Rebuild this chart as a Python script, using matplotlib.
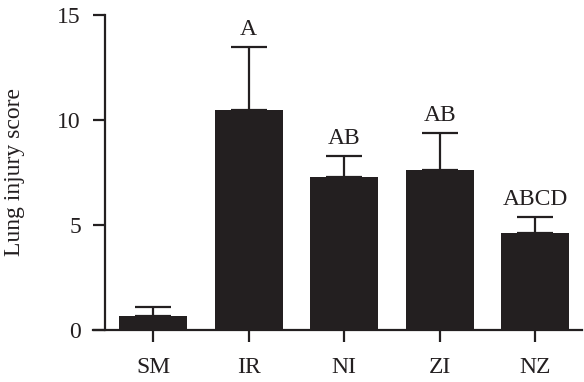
import matplotlib
matplotlib.use("Agg")
import matplotlib.pyplot as plt

categories = ["SM", "IR", "NI", "ZI", "NZ"]
means = [0.67, 10.5, 7.3, 7.6, 4.6]
errors = [0.43, 3.0, 1.0, 1.8, 0.8]
letters = ["", "A", "AB", "AB", "ABCD"]
yticks = [0, 5, 10, 15]

plt.rcParams['font.family'] = ['Liberation Serif', 'DejaVu Serif']
color = "#231f20"
fs = 17

fig = plt.figure(figsize=(5.84, 3.82), dpi=100)
ax = fig.add_axes([93/584, 1-330/382, (582-93)/584, (330-15)/382])

x = list(range(len(categories)))
ax.bar(x, means, width=0.71, color=color, zorder=2)
ax.errorbar(x, means, yerr=[[0]*len(errors), errors], fmt='none', ecolor=color,
            elinewidth=1.6, capsize=13, capthick=1.6, zorder=1)

for xi, m, e, lab in zip(x, means, errors, letters):
    if lab:
        ax.annotate(lab, (xi, m + e), xytext=(0, 5), textcoords='offset points',
                    ha='center', va='bottom', fontsize=fs, color=color)

ax.set_xlim(-0.63, 4.49)
ax.set_ylim(0, 15)
ax.set_xticks(x)
ax.set_xticklabels(categories)
ax.set_yticks(yticks)
ax.set_yticklabels([str(t) for t in yticks])
ax.set_ylabel("Lung injury score", fontsize=fs, color=color)
ax.yaxis.set_label_coords(-0.139, 0.5)

for s in ["top", "right"]:
    ax.spines[s].set_visible(False)
ax.spines["left"].set_position(("data", -0.5))
for s in ["left", "bottom"]:
    ax.spines[s].set_linewidth(1.6)
    ax.spines[s].set_color(color)
ax.tick_params(axis='both', direction='out', length=8.6, width=1.6, color=color,
               labelcolor=color, labelsize=fs)
ax.tick_params(axis='y', pad=9)
ax.tick_params(axis='x', pad=11)

fig.savefig("out.png", dpi=100)
